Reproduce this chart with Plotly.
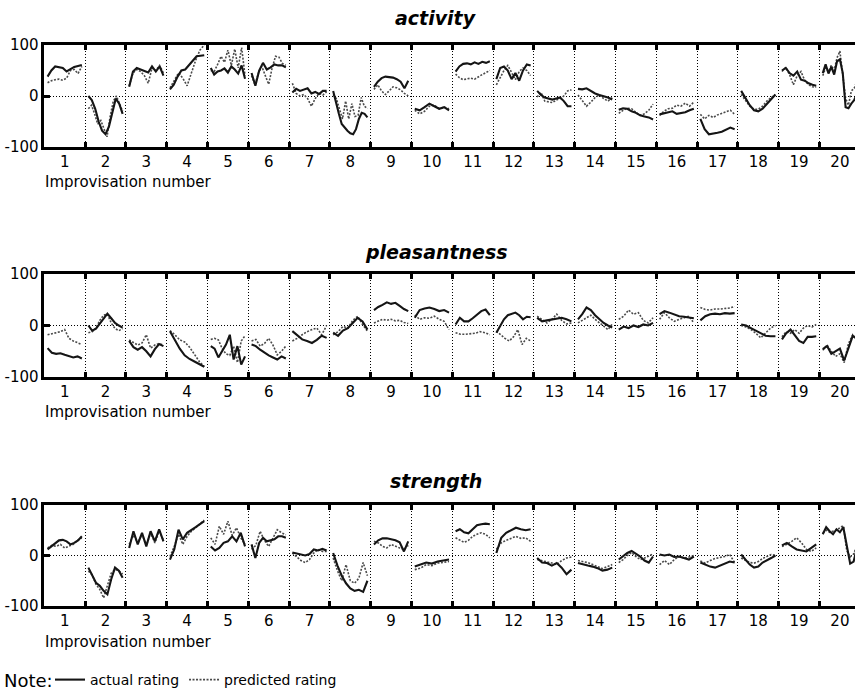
import plotly.graph_objects as go

improvisations = [str(i) for i in range(1, 21)]
panel_titles = ["activity", "pleasantness", "strength"]
y_ticks = [-100, 0, 100]
y_labels = ["-100", "0", "100"]

activity_actual = [
    [38, 50, 58, 57, 55, 48, 52, 57, 59, 61],
    [0, -8, -25, -50, -68, -75, -60, -30, -5, -15, -35],
    [18, 48, 55, 52, 50, 46, 58, 48, 58, 40],
    [13, 22, 38, 50, 52, 60, 70, 78, 79, 80],
    [55, 42, 48, 50, 54, 46, 58, 52, 44, 60, 34],
    [45, 20, 50, 65, 52, 56, 62, 60, 60, 56],
    [7, 14, 10, 12, 15, 5, 8, 4, 10, 10],
    [10, -15, -35, -55, -62, -68, -73, -75, -65, -45, -33, -35, -42],
    [18, 28, 35, 38, 37, 36, 33, 28, 15, 30],
    [-25, -28, -22, -15, -20, -25, -22, -28],
    [48, 58, 63, 64, 62, 66, 63, 67, 65, 68],
    [33, 55, 58, 50, 33, 45, 30, 50, 62, 60],
    [10, 2, -3, -5, -7, -5, -3, -10, -20, -20],
    [14, 13, 15, 10, 5, 2, 0, -3, -7],
    [-27, -24, -25, -30, -33, -38, -40, -42, -46],
    [-36, -34, -32, -30, -35, -34, -32, -28, -25],
    [-45, -65, -75, -74, -72, -70, -66, -62, -65],
    [10, -5, -18, -28, -30, -25, -15, -5, 3],
    [50, 55, 45, 40, 48, 32, 30, 25, 22, 20],
    [45, 62, 44, 57, 42, 68, 72, 45, -22, -24, -15, -8, 5],
]
activity_predicted = [
    [26, 30, 32, 33, 31, 35, 50, 52, 44, 58],
    [-25, -18, -35, -55, -48, -65, -80, -40, -10, 0, -15, -30],
    [20, 45, 52, 48, 40, 25, 55, 50, 60, 45],
    [16, 30, 45, 35, 20, 45, 70, 90, 100],
    [50, 48, 62, 78, 66, 90, 60, 92, 55, 95, 40],
    [40, 22, 45, 58, 40, 23, 55, 78, 76, 64, 60],
    [25, 5, 0, 3, -5, -20, -5, 5, 2, 8],
    [3, -5, -25, -45, -10, -45, -15, -40, -38, -3, -20, -25],
    [13, 22, 10, 3, 10, 18, 16, 12, 5, 0],
    [-28, -35, -30, -20, -18, -25, -22, -25],
    [43, 36, 32, 34, 35, 33, 38, 42, 46, 50],
    [22, 35, 50, 60, 45, 32, 48, 55, 50, 40],
    [-2, 7, -10, -12, -13, -8, -5, 0, 10, 12],
    [2, -8, -20, -12, -3, 2, -5, -10, -3],
    [-34, -28, -24, -25, -32, -38, -35, -28, -16],
    [-38, -30, -25, -24, -18, -20, -14, -20, -12],
    [-36, -45, -38, -42, -37, -34, -32, -28, -36],
    [3, -8, -20, -26, -26, -20, -10, -3, 2],
    [48, 56, 42, 22, 40, 48, 30, 22, 18, 17],
    [40, 55, 48, 60, 50, 75, 88, 40, -5, -18, 10, 15, 30],
]

pleasantness_actual = [
    [-44, -53, -55, -54, -57, -59, -62, -60, -64],
    [0, -10, -6, 4, 14, 23, 14, 5, 0, -4],
    [-30, -42, -47, -42, -50, -60, -46, -36, -40],
    [-11, -28, -45, -58, -65, -70, -75, -80],
    [-40, -45, -62, -48, -37, -18, -66, -40, -76, -60],
    [-37, -40, -47, -53, -58, -62, -66, -60, -64],
    [-11, -20, -27, -30, -34, -28, -20, -24],
    [-14, -20, -10, -5, 5, 15, 8, -8],
    [30, 36, 40, 45, 42, 44, 38, 32, 28],
    [15, 30, 33, 35, 32, 28, 30, 25],
    [2, 15, 8, 8, 14, 22, 28, 31, 20],
    [-14, 0, 12, 20, 22, 25, 20, 12, 17, 16],
    [15, 8, 10, 12, 13, 15, 12, 8],
    [12, 22, 35, 30, 20, 12, 5, 0, -4],
    [-8, -2, -5, 0, -3, 2, 0, 5],
    [22, 28, 25, 22, 18, 17, 15, 14],
    [10, 18, 22, 23, 22, 24, 23, 24],
    [2, 0, -5, -10, -15, -20, -21, -21],
    [-27, -15, -8, -20, -30, -34, -22, -22, -21],
    [-46, -40, -55, -50, -45, -68, -42, -20, -26],
]
pleasantness_predicted = [
    [-18, -16, -15, -12, -8, -25, -30, -34, -37],
    [-14, -12, -5, 10, 20, 22, 5, -6, -10, -6],
    [-28, -33, -38, -34, -18, -44, -38, -35, -38],
    [-10, -18, -28, -32, -42, -55, -70, -80],
    [-27, -25, -28, -45, -55, -58, -40, -72, -30, -20],
    [-30, -27, -40, -35, -25, -38, -57, -50, -40],
    [-30, -25, -18, -12, -8, -5, -18, 0],
    [-18, -12, -2, -5, 10, 18, 2, -11],
    [5, 8, 12, 10, 12, 9, 10, 6, 4],
    [20, 12, 15, 14, 18, 12, 8, -8],
    [-14, -17, -17, -16, -15, -12, -14, -18],
    [-11, -18, -25, -30, -22, -8, -37, -25, -30],
    [18, 12, 5, 12, 22, 10, 3, 5],
    [5, 10, 15, 20, 12, 5, -2, -8, 3],
    [12, 18, 30, 22, 25, 10, 5, 15],
    [12, 25, 15, 8, 12, 15, 18, 5],
    [35, 31, 30, 32, 32, 33, 34, 37],
    [0, -3, -8, -15, -24, -15, -5, 0],
    [-22, -12, -15, -8, -15, -5, 0, -3, 2],
    [-48, -38, -50, -60, -55, -72, -35, -18, -30],
]

strength_actual = [
    [12, 18, 25, 30, 31, 28, 22, 25, 30, 38],
    [-24, -40, -54, -60, -70, -77, -47, -24, -30, -44],
    [15, 48, 22, 45, 18, 48, 28, 52, 28],
    [-8, 12, 51, 32, 45, 50, 56, 62, 68],
    [18, 10, 15, 25, 28, 38, 28, 45, 18],
    [22, -5, 25, 35, 28, 30, 32, 38, 38, 35],
    [6, 4, 2, 0, 3, 12, 10, 13, 10],
    [5, -20, -40, -55, -65, -70, -68, -72, -50],
    [22, 30, 34, 34, 32, 30, 26, 8, 28],
    [-22, -18, -14, -16, -12, -10, -8],
    [48, 52, 46, 44, 52, 60, 62, 63, 62],
    [5, 35, 45, 50, 55, 52, 50, 52],
    [-5, -14, -15, -20, -15, -24, -37, -28],
    [-15, -18, -20, -22, -25, -30, -28, -24],
    [-8, -2, 5, 9, 4, -2, -10, -14, -2],
    [2, 0, 2, -3, -2, -5, -8, -2],
    [-14, -18, -22, -24, -20, -16, -12, -14],
    [2, -8, -18, -24, -22, -14, -10, -5, 0],
    [20, 25, 18, 12, 10, 8, 15, 22],
    [42, 56, 48, 42, 52, 46, 56, 16, -16, -12, 16],
]
strength_predicted = [
    [15, 20, 18, 22, 15, 18, 22, 30, 35],
    [-31, -38, -57, -67, -84, -60, -35, -28, -30, -37],
    [22, 40, 25, 42, 20, 45, 25, 48, 30],
    [-2, 18, 42, 22, 38, 48, 55, 62, 70],
    [35, 22, 58, 42, 68, 40, 55, 35, 22],
    [12, 20, 48, 30, 18, 35, 51, 45, 41],
    [5, -3, -10, -14, -8, 5, 12, 8, 8],
    [-5, -30, -50, -18, -50, -55, -45, -14, -40],
    [28, 25, 18, 15, 22, 18, 15, 12, 20],
    [-28, -25, -18, -20, -15, -14, -12],
    [35, 30, 26, 30, 38, 42, 45, 42, 35],
    [12, 25, 30, 34, 38, 34, 35, 28],
    [-8, -10, -12, -15, -18, -10, -5, -3],
    [-10, -12, -14, -18, -22, -26, -22, -18],
    [-14, -8, 0, 6, -2, -8, -5, -1, 3],
    [-18, -10, -18, -8, -2, -5, -3, 0],
    [-11, -15, -10, -6, -4, -2, 2, -14],
    [-5, -10, -14, -15, -12, -6, -2, 2, 0],
    [18, 22, 28, 35, 25, 12, 8, 15],
    [45, 50, 46, 48, 50, 55, 59, 10, -3, 3, 20],
]

panels = [
    (activity_actual, activity_predicted),
    (pleasantness_actual, pleasantness_predicted),
    (strength_actual, strength_predicted),
]

W, H = 855, 697
FONT = "DejaVu Sans"


def segment_series(segments):
    xs, ys = [], []
    for s, vals in enumerate(segments):
        n = len(vals)
        for k, v in enumerate(vals):
            xs.append(s + 0.08 + 0.84 * k / (n - 1))
            ys.append(v)
        xs.append(None)
        ys.append(None)
    return xs, ys


# pixel layout of the three panels (top, bottom)
panel_px = [(45, 147), (274, 377), (505, 606)]
title_px = [18, 252, 481]
xlabel_px = [182, 412, 642]
x_left = 44.3
seg_w = 40.8
x_max = (W - x_left) / seg_w
boundaries = list(range(1, 20))
centers = [k + 0.5 for k in range(20)]

fig = go.Figure()
annotations = []
for i, (act, pred) in enumerate(panels):
    ax = "" if i == 0 else str(i + 1)
    lab = str(i + 4)
    xa, ya = segment_series(act)
    xp, yp = segment_series(pred)
    fig.add_trace(go.Scatter(x=xp, y=yp, mode="lines", name="predicted rating",
                             line=dict(color="#4a4a4a", width=1.6, dash="2px,1.5px"),
                             xaxis="x" + ax, yaxis="y" + ax, showlegend=(i == 0),
                             legendrank=2))
    fig.add_trace(go.Scatter(x=xa, y=ya, mode="lines", name="actual rating",
                             line=dict(color="#151515", width=2.1),
                             xaxis="x" + ax, yaxis="y" + ax, showlegend=(i == 0),
                             legendrank=1))
    # empty trace so the label axis is drawn
    fig.add_trace(go.Scatter(x=[], y=[], xaxis="x" + lab, yaxis="y" + ax,
                             showlegend=False, hoverinfo="skip"))
    top, bot = panel_px[i]
    fig.layout["xaxis" + ax] = dict(
        domain=[x_left / W, 1], anchor="y" + ax, range=[0, x_max],
        tickvals=boundaries, showticklabels=False,
        ticks="inside", ticklen=5, tickwidth=2.5, tickcolor="black",
        showgrid=True, griddash="1px,2px", gridcolor="black", gridwidth=1,
        zeroline=False, automargin=False,
        showline=True, linecolor="black", linewidth=2.5, mirror="ticks",
    )
    fig.layout["xaxis" + lab] = dict(
        domain=[x_left / W, 1], anchor="y" + ax, overlaying="x" + ax,
        range=[0, x_max], tickvals=centers, ticktext=improvisations,
        ticks="", showgrid=False, zeroline=False, showline=False,
        automargin=False, ticklabelstandoff=4,
        tickfont=dict(family=FONT, size=15, color="black"),
    )
    fig.layout["yaxis" + ax] = dict(
        domain=[(H - bot) / H, (H - top) / H], anchor="x" + ax, range=[-100, 100],
        tickvals=y_ticks, ticktext=y_labels, ticks="inside", ticklen=6,
        tickwidth=2.5, tickcolor="black", showgrid=True, griddash="1px,2px",
        gridcolor="black", gridwidth=1, zeroline=False, automargin=False,
        showline=True, linecolor="black", linewidth=2.5,
        tickfont=dict(family=FONT, size=15, color="black"),
    )
    annotations.append(dict(text=panel_titles[i], x=436 / W, y=(H - title_px[i]) / H,
                            xref="paper", yref="paper", showarrow=False,
                            xanchor="center", yanchor="middle",
                            font=dict(family=FONT, size=19, color="black",
                                      weight="bold", style="italic")))
    annotations.append(dict(text="Improvisation number", x=43 / W,
                            y=(H - xlabel_px[i]) / H, xref="paper", yref="paper",
                            showarrow=False, xanchor="left", yanchor="middle",
                            font=dict(family=FONT, size=15, color="black")))

annotations.append(dict(text="Note:", x=2 / W, y=(H - 680) / H, xref="paper",
                        yref="paper", showarrow=False, xanchor="left",
                        yanchor="middle", font=dict(family=FONT, size=18, color="black")))

fig.update_layout(
    width=W, height=H, margin=dict(l=0, r=0, t=0, b=0, autoexpand=False),
    paper_bgcolor="white", plot_bgcolor="white",
    annotations=annotations,
    showlegend=True,
    legend=dict(orientation="h", x=50 / W, y=(H - 680) / H, xanchor="left",
                yanchor="middle", font=dict(family=FONT, size=14, color="black"),
                bgcolor="rgba(0,0,0,0)", tracegroupgap=0,
                traceorder="normal"),
)

fig.write_html("out.html", config={"displayModeBar": False},
               post_script="document.body.style.margin='0';document.body.style.overflow='hidden';")
